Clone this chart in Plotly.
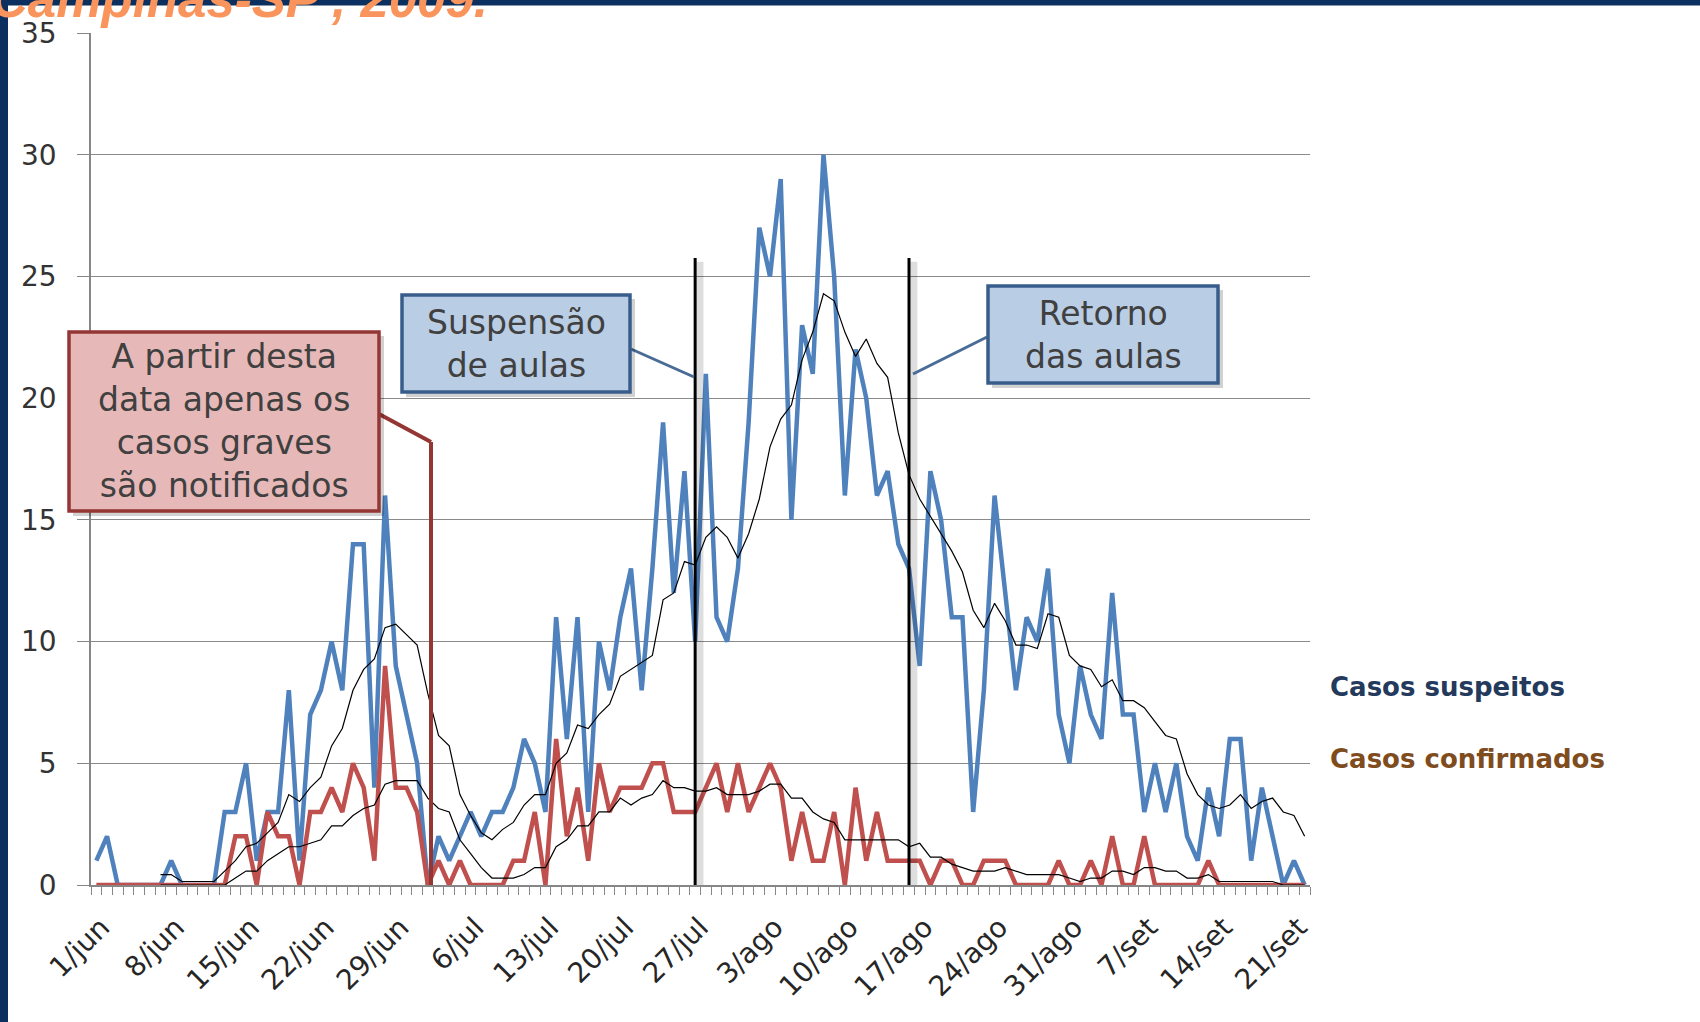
import pandas as pd
import plotly.graph_objects as go

# Casos diários de influenza A(H1N1), 1/jun a 22/set 2009 (um valor por dia)
casos_suspeitos = [
    1, 2, 0, 0, 0, 0, 0, 1, 0, 0,
    0, 0, 3, 3, 5, 1, 3, 3, 8, 1,
    7, 8, 10, 8, 14, 14, 4, 16, 9, 7,
    5, 0, 2, 1, 2, 3, 2, 3, 3, 4,
    6, 5, 3, 11, 6, 11, 3, 10, 8, 11,
    13, 8, 13, 19, 12, 17, 10, 21, 11, 10,
    13, 19, 27, 25, 29, 15, 23, 21, 30, 25,
    16, 22, 20, 16, 17, 14, 13, 9, 17, 15,
    11, 11, 3, 8, 16, 12, 8, 11, 10, 13,
    7, 5, 9, 7, 6, 12, 7, 7, 3, 5,
    3, 5, 2, 1, 4, 2, 6, 6, 1, 4,
    2, 0, 1, 0,
]
casos_confirmados = [
    0, 0, 0, 0, 0, 0, 0, 0, 0, 0,
    0, 0, 0, 2, 2, 0, 3, 2, 2, 0,
    3, 3, 4, 3, 5, 4, 1, 9, 4, 4,
    3, 0, 1, 0, 1, 0, 0, 0, 0, 1,
    1, 3, 0, 6, 2, 4, 1, 5, 3, 4,
    4, 4, 5, 5, 3, 3, 3, 4, 5, 3,
    5, 3, 4, 5, 4, 1, 3, 1, 1, 3,
    0, 4, 1, 3, 1, 1, 1, 1, 0, 1,
    1, 0, 0, 1, 1, 1, 0, 0, 0, 0,
    1, 0, 0, 1, 0, 2, 0, 0, 2, 0,
    0, 0, 0, 0, 1, 0, 0, 0, 0, 0,
    0, 0, 0, 0,
]
rotulos_datas = ["1/jun", "8/jun", "15/jun", "22/jun", "29/jun", "6/jul", "13/jul",
                 "20/jul", "27/jul", "3/ago", "10/ago", "17/ago", "24/ago", "31/ago",
                 "7/set", "14/set", "21/set"]
dias_rotulos = [7 * k for k in range(len(rotulos_datas))]
dia_suspensao = 56
dia_retorno = 76
periodo_media = 7

dias = list(range(len(casos_suspeitos)))
media_suspeitos = pd.Series(casos_suspeitos).rolling(periodo_media).mean()
media_confirmados = pd.Series(casos_confirmados).rolling(periodo_media).mean()

# Page geometry (pixels)
W, H = 1700, 1022
PL, PR, PT, PB = 91, 1310, 33, 885


def px_x(X):
    return (X - PL) / (PR - PL)


def px_y(Y):
    return (PB - Y) / (PB - PT)


AZUL = "#4F81BD"
VERMELHO = "#C0504D"
FONT = "DejaVu Sans"

fig = go.Figure()
fig.add_trace(go.Scatter(x=dias, y=casos_suspeitos, mode="lines", name="Casos suspeitos",
                         line=dict(color=AZUL, width=4.5)))
fig.add_trace(go.Scatter(x=dias, y=casos_confirmados, mode="lines", name="Casos confirmados",
                         line=dict(color=VERMELHO, width=4.5)))
fig.add_trace(go.Scatter(x=dias, y=media_suspeitos, mode="lines",
                         line=dict(color="black", width=1.2), showlegend=False))
fig.add_trace(go.Scatter(x=dias, y=media_confirmados, mode="lines",
                         line=dict(color="black", width=1.2), showlegend=False))

shapes = []

# dark frame along the top and left edges
shapes.append(dict(type="rect", xref="paper", yref="paper", x0=px_x(0), x1=px_x(W),
                   y0=px_y(5.5), y1=px_y(0), fillcolor="#0B2F5E", line=dict(width=0),
                   layer="below"))
shapes.append(dict(type="rect", xref="paper", yref="paper", x0=px_x(0), x1=px_x(8),
                   y0=px_y(H), y1=px_y(0), fillcolor="#0B2F5E", line=dict(width=0),
                   layer="below"))

# school-calendar markers
for d in (dia_suspensao, dia_retorno):
    shapes.append(dict(type="line", xref="x", yref="y", x0=d + 0.45, x1=d + 0.45,
                       y0=0, y1=25.6, line=dict(color="rgba(0,0,0,0.13)", width=7)))
    shapes.append(dict(type="line", xref="x", yref="y", x0=d, x1=d, y0=0, y1=25.76,
                       line=dict(color="black", width=3)))


def caixa(x0, y0, x1, y1, fill, borda):
    shapes.append(dict(type="rect", xref="paper", yref="paper",
                       x0=px_x(x0 + 4), x1=px_x(x1 + 5), y0=px_y(y1 + 5), y1=px_y(y0 + 4),
                       fillcolor="rgba(0,0,0,0.18)", line=dict(width=0)))
    shapes.append(dict(type="rect", xref="paper", yref="paper",
                       x0=px_x(x0), x1=px_x(x1), y0=px_y(y1), y1=px_y(y0),
                       fillcolor=fill, line=dict(color=borda, width=3.5)))


def conector(pts, cor, w):
    for (xa, ya), (xb, yb) in zip(pts[:-1], pts[1:]):
        shapes.append(dict(type="line", xref="paper", yref="paper",
                           x0=px_x(xa), y0=px_y(ya), x1=px_x(xb), y1=px_y(yb),
                           line=dict(color=cor, width=w)))


conector([(379, 414), (431, 442), (431, 885)], "#943634", 4)
conector([(631, 349), (694, 377)], "#4A6B96", 3)
conector([(987, 337), (913, 374)], "#4A6B96", 3)
caixa(69, 332, 379, 511, "#E6B9B8", "#943634")
caixa(402, 295, 630, 392, "#B9CDE5", "#385D8A")
caixa(988, 286, 1218, 383, "#B9CDE5", "#385D8A")

annotations = []


def texto(X, Y, txt, size, color="#404040", bold=False, xanchor="center", family=FONT):
    annotations.append(dict(xref="paper", yref="paper", x=px_x(X), y=px_y(Y), text=txt,
                            showarrow=False, xanchor=xanchor, yanchor="middle", align="center",
                            font=dict(family=family, size=size, color=color,
                                      weight="bold" if bold else "normal")))


texto(224, 421, "A partir desta<br>data apenas os<br>casos graves<br>são notificados", 33)
texto(516, 344, "Suspensão<br>de aulas", 33)
texto(1103, 335, "Retorno<br>das aulas", 33)
texto(1328, 687, "Casos suspeitos", 26, color="#243A5C", bold=True, xanchor="left")
texto(1328, 759, "Casos confirmados", 26, color="#7F4C1E", bold=True, xanchor="left")

annotations.append(dict(xref="paper", yref="paper", x=px_x(-11), y=px_y(30),
                        xanchor="left", yanchor="bottom", showarrow=False,
                        text="Campinas-SP , 2009.",
                        font=dict(family="Liberation Sans", size=51, color="#F9945C",
                                  weight="bold", style="italic")))

fig.update_layout(
    width=W, height=H, autosize=False,
    margin=dict(l=PL, r=W - PR, t=PT, b=H - PB, pad=0),
    paper_bgcolor="white", plot_bgcolor="white",
    showlegend=False,
    shapes=shapes, annotations=annotations,
    xaxis=dict(range=[-0.5, len(dias) - 0.5], tickmode="array", tickvals=dias_rotulos,
               ticktext=rotulos_datas, tickangle=-45, ticks="", showgrid=False,
               showline=True, linecolor="#868686", linewidth=1.5, zeroline=False,
               tickfont=dict(family=FONT, size=28, color="#262626"),
               ticklabelstandoff=13, ticklabelshift=5,
               minor=dict(tickmode="linear", tick0=-0.5, dtick=1, ticks="outside",
                          ticklen=8, tickcolor="#868686", tickwidth=1.3, showgrid=False),
               automargin=False, fixedrange=True),
    yaxis=dict(range=[0, 35], tickvals=[0, 5, 10, 15, 20, 25, 30, 35], showgrid=True,
               gridcolor="#8A8A8A", gridwidth=1.3, showline=True, linecolor="#868686",
               linewidth=1.5, ticks="outside", ticklen=12, tickcolor="#868686",
               tickwidth=1.3, zeroline=False, ticklabelstandoff=15,
               tickfont=dict(family=FONT, size=28, color="#333333"),
               automargin=False, fixedrange=True),
)

fig.write_html("out.html")
